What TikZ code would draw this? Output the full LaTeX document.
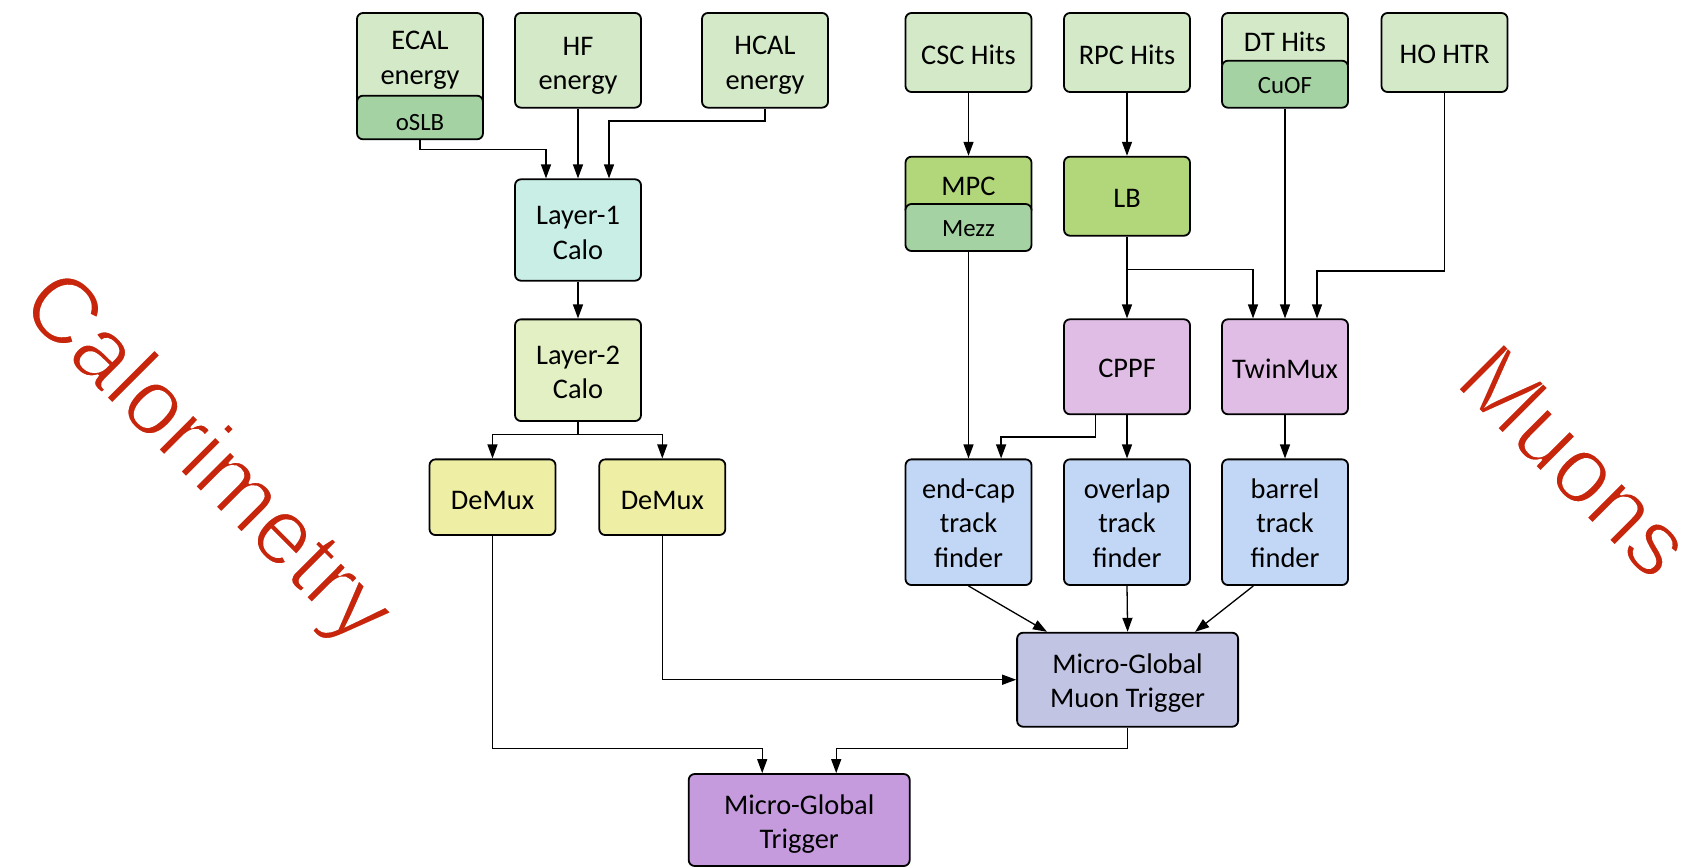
\documentclass[tikz,border=0pt]{standalone}
\usepackage{fontspec}
\setmainfont{Carlito}
\newfontfamily\redfont{Liberation Sans}
\usetikzlibrary{arrows.meta,calc}
\definecolor{topgreen}{RGB}{211,233,200}
\definecolor{midgreen}{RGB}{165,210,163}
\definecolor{lbgreen}{RGB}{178,214,122}
\definecolor{cyanbox}{RGB}{200,238,230}
\definecolor{l2box}{RGB}{226,240,195}
\definecolor{demuxbox}{RGB}{238,238,164}
\definecolor{pinkbox}{RGB}{224,189,229}
\definecolor{bluebox}{RGB}{194,215,245}
\definecolor{gmtbox}{RGB}{193,196,227}
\definecolor{gtbox}{RGB}{197,155,221}
\definecolor{redlabel}{RGB}{200,38,12}
% #1 name, #2 x, #3 y, #4 box options, #5 text style, #6 text shift (px, down), #7 text
\newcommand{\mybox}[7]{%
  \node[box, #4] (#1) at (#2,#3) {};
  \node[#5] (#1-t) at ($(#1)+(0,#6)$) {#7};}
\newcommand{\thinon}{\special{pdf:literal direct 2 Tr 1 1 1 RG 1.0 w}}
\newcommand{\thinoff}{\special{pdf:literal direct 0 Tr}}
\begin{document}
\begin{tikzpicture}[x=0.5pt,y=-0.5pt,
  box/.style={draw=black, line width=0.9pt, rounded corners=3pt, inner sep=0pt,
    minimum width=63pt},
  txt/.style={inner sep=0pt, align=center, font=\fontsize{14.2}{17.3}\selectfont},
  subtxt/.style={inner sep=0pt, align=center, font=\fontsize{12.4}{14}\selectfont},
  arr/.style={-{Triangle[length=7pt,width=5pt]}, line width=0.65pt},
  lbl/.style={text=redlabel, inner sep=0pt, rotate=-45, font=\redfont\fontsize{47}{52}\selectfont}]
\useasboundingbox (0,0) rectangle (1690,867);

% calorimetry side
\mybox{ecal}{420}{60}{fill=topgreen, minimum height=47pt}{txt}{0}{ECAL\\energy}
\mybox{oslb}{420}{117.5}{fill=midgreen, minimum height=21.8pt}{subtxt}{5}{oSLB}
\mybox{hf}{578}{60.3}{fill=topgreen, minimum height=47.35pt}{txt}{5.5}{HF\\energy}
\mybox{hcal}{765}{60.3}{fill=topgreen, minimum height=47.35pt}{txt}{5}{HCAL\\energy}
\mybox{l1}{578}{230}{fill=cyanbox, minimum height=50.7pt}{txt}{3}{Layer-1\\Calo}
\mybox{l2}{578}{370.2}{fill=l2box, minimum height=50.85pt}{txt}{2}{Layer-2\\Calo}
\mybox{dm1}{492.5}{497.2}{fill=demuxbox, minimum height=37.85pt}{txt}{3}{DeMux}
\mybox{dm2}{662.3}{497.2}{fill=demuxbox, minimum height=37.85pt}{txt}{3}{DeMux}

% muon side
\mybox{csc}{968.5}{52.5}{fill=topgreen, minimum height=39.5pt}{txt}{2}{CSC Hits}
\mybox{rpc}{1127}{52.5}{fill=topgreen, minimum height=39.5pt}{txt}{2}{RPC Hits}
\mybox{dt}{1285}{41.5}{fill=topgreen, minimum height=28.5pt}{txt}{0}{DT Hits}
\mybox{cuof}{1285}{84.2}{fill=midgreen, minimum height=23.5pt}{subtxt}{1.5}{CuOF}
\mybox{ho}{1444.5}{52.5}{fill=topgreen, minimum height=39.5pt}{txt}{2}{HO HTR}
\mybox{mpc}{968.5}{185.9}{fill=lbgreen, minimum height=29.2pt}{txt}{0}{MPC}
\mybox{mezz}{968.5}{227.5}{fill=midgreen, minimum height=23.5pt}{subtxt}{1}{Mezz}
\mybox{lb}{1127}{196.2}{fill=lbgreen, minimum height=39.5pt}{txt}{2}{LB}
\mybox{cppf}{1127}{366.8}{fill=pinkbox, minimum height=47.5pt}{txt}{2}{CPPF}
\mybox{twin}{1285}{366.8}{fill=pinkbox, minimum height=47.5pt}{txt}{2}{TwinMux}
\mybox{endcap}{968.5}{522.2}{fill=bluebox, minimum height=62.85pt}{txt}{1}{end-cap\\track\\finder}
\mybox{overlap}{1127}{522.2}{fill=bluebox, minimum height=62.85pt}{txt}{1}{overlap\\track\\finder}
\mybox{barrel}{1285}{522.2}{fill=bluebox, minimum height=62.85pt}{txt}{1}{barrel\\track\\finder}
\mybox{gmt}{1127.6}{679.7}{fill=gmtbox, minimum width=110.5pt, minimum height=47pt}{txt}{3.5}{Micro-Global\\Muon Trigger}
\mybox{gt}{799.2}{820}{fill=gtbox, minimum width=110.5pt, minimum height=46pt}{txt}{4}{Micro-Global\\Trigger}

% connectors, calorimetry
\draw[arr] (oslb.south) -- ++(0,9) -| ($(l1.north)+(-32,0)$);
\draw[arr] (hf.south) -- (l1.north);
\draw[arr] (hcal.south) -- ++(0,12.3) -| ($(l1.north)+(31,0)$);
\draw[arr] (l1.south) -- (l2.north);
\draw[arr] (l2.south) -- ++(0,12.3) -| (dm1.north);
\draw[arr] (l2.south) -- ++(0,12.3) -| (dm2.north);

% connectors, muons
\draw[arr] (csc.south) -- (mpc.north);
\draw[arr] (rpc.south) -- (lb.north);
\draw[arr] (lb.south) -- (cppf.north);
\draw[arr] (lb.south) -- ++(0,32.6) -| ($(twin.north)+(-32,0)$);
\draw[arr] (cuof.south) -- (twin.north);
\draw[arr] (ho.south) -- ++(0,178) -| ($(twin.north)+(32,0)$);
\draw[arr] (mezz.south) -- (endcap.north);
\draw[arr] ($(cppf.south)+(-31.5,0)$) -- ++(0,21.7) -| ($(endcap.north)+(32.6,0)$);
\draw[arr] (cppf.south) -- (overlap.north);
\draw[arr] (twin.south) -- (barrel.north);
\draw[arr] (endcap.south) -- ($(gmt.north)+(-80.6,0)$);
\draw[arr] (overlap.south) -- (gmt.north);
\draw[arr] ($(barrel.south)+(-31.7,0)$) -- ($(gmt.north)+(67.5,0)$);

% to global triggers
\draw[arr] (dm2.south) |- (gmt.west);
\draw[arr] (dm1.south) -- ++(0,212.7) -| ($(gt.north)+(-37,0)$);
\draw[arr] (gmt.south) -- ++(0,21) -| ($(gt.north)+(37,0)$);

% labels
\node[lbl] (calo) at (204,461) {\thinon Calorimetry\thinoff};
\node[lbl] (muons) at (1575,461) {\thinon Muons\thinoff};
\end{tikzpicture}
\end{document}
